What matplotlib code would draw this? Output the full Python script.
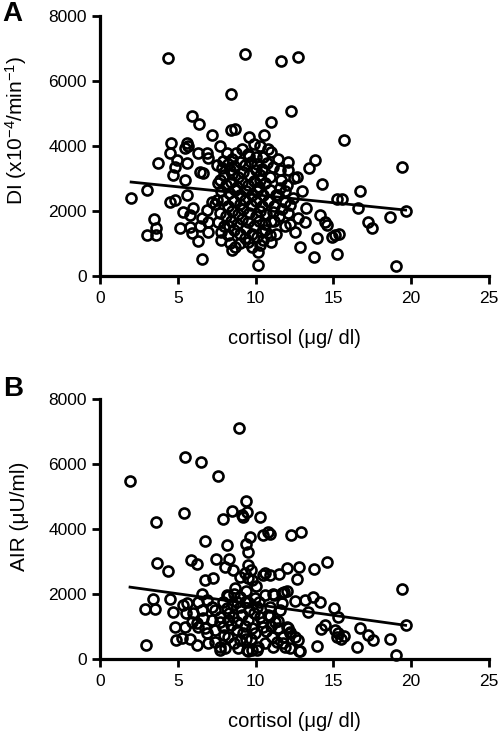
import matplotlib
matplotlib.use("Agg")
from matplotlib import pyplot as plt
import numpy as np

plt.rcParams['font.family'] = ['Liberation Sans', 'DejaVu Sans']
plt.rcParams['mathtext.fontset'] = 'custom'
plt.rcParams['mathtext.rm'] = 'Liberation Sans'
plt.rcParams['mathtext.default'] = 'regular'

# Panel A: disposition index vs cortisol
cortisolA = [4.35, 9.32, 11.63, 12.75, 8.4, 12.25, 10.99, 5.9, 6.36, 7.2,
             8.4, 8.65, 9.6, 10.55, 15.65, 4.55, 4.5, 5.6, 5.67, 5.46,
             3.75, 4.93, 4.8, 4.67, 5.57, 6.3, 6.86, 6.96, 7.71, 8.14,
             8.76, 6.43, 6.64, 7.5, 7.82, 7.71, 8.35, 2.0, 3.02, 5.46,
             5.57, 4.5, 4.85, 5.36, 6.0, 5.78, 6.86, 7.18, 7.55, 6.53,
             6.96, 5.14, 5.78, 5.89, 6.43, 6.96, 6.32, 6.57, 3.5, 3.58,
             3.6, 3.0, 7.8, 8.35, 8.68, 8.5, 9.53, 10.5, 10.82, 10.99,
             11.46, 12.06, 10.71, 11.14, 11.57, 12.1, 12.45, 12.64, 11.63, 10.93,
             10.28, 13.82, 13.43, 14.25, 12.96, 15.24, 15.53, 16.71, 11.46, 11.89,
             12.21, 13.24, 16.6, 19.64, 19.39, 12.75, 13.17, 14.17, 14.44, 14.57,
             18.64, 17.24, 17.5, 11.89, 12.1, 12.55, 13.93, 14.89, 15.1, 15.35,
             12.83, 10.13, 13.75, 15.23, 10.13, 19.0, 10.6, 10.5, 9.32, 9.6,
             7.9, 8.2, 8.6, 9.0, 9.3, 9.7, 10.1, 10.4, 8.0, 8.5,
             8.9, 9.2, 9.6, 10.0, 10.3, 7.6, 8.1, 8.45, 8.8, 9.1,
             9.5, 9.9, 10.2, 10.6, 7.8, 8.3, 8.7, 9.0, 9.4, 9.8,
             10.1, 10.5, 10.9, 7.4, 7.9, 8.2, 8.6, 9.0, 9.3, 9.7,
             10.0, 10.4, 10.8, 11.2, 7.7, 8.1, 8.5, 8.9, 9.2, 9.6,
             10.0, 10.3, 10.7, 11.1, 7.6, 8.0, 8.4, 8.8, 9.1, 9.5,
             9.9, 10.2, 10.6, 11.0, 7.8, 8.2, 8.6, 9.0, 9.4, 9.8,
             10.1, 10.4, 10.9, 9.0, 9.5, 9.8, 10.3, 8.3, 11.3, 11.6,
             11.9, 11.2, 11.5, 11.7, 12.4, 12.0, 10.0, 8.5, 9.9, 10.3,
             9.1, 11.3, 11.0, 12.2]
diA = [6700, 6820, 6630, 6750, 5590, 5070, 4750, 4910, 4690, 4350,
       4490, 4520, 4270, 4340, 4170, 4090, 3790, 4090, 4000, 3930,
       3480, 3560, 3350, 3100, 3470, 3780, 3790, 3640, 4010, 3775,
       3790, 3200, 3160, 3415, 3310, 2950, 3260, 2390, 2640, 2950,
       2490, 2290, 2340, 1980, 2080, 1880, 2030, 2290, 2340, 1775,
       1650, 1470, 1520, 1310, 1540, 1360, 1070, 530, 1740, 1490,
       1260, 1260, 1110, 1005, 890, 800, 3760, 3670, 3900, 3800,
       3600, 3510, 3470, 3365, 3260, 3260, 3010, 3060, 2950, 3055,
       2950, 3560, 3320, 2840, 2630, 2365, 2365, 2625, 2490, 2290,
       2180, 2100, 2080, 2010, 3365, 1775, 1670, 1880, 1670, 1560,
       1800, 1670, 1470, 1540, 1930, 1340, 1160, 1200, 1250, 1300,
       890, 750, 575, 665, 325, 310, 1415, 1110, 1160, 3700,
       3550, 3450, 3380, 3500, 3400, 3520, 3450, 3300, 3100, 3150,
       3050, 3200, 3100, 3250, 3100, 2850, 2800, 2900, 2750, 2880,
       2800, 2920, 2750, 2850, 2600, 2550, 2650, 2500, 2600, 2480,
       2620, 2500, 2650, 2200, 2350, 2150, 2300, 2200, 2350, 2180,
       2300, 2150, 2300, 2150, 1950, 1850, 2000, 1900, 2050, 1950,
       1850, 2000, 1900, 1980, 1650, 1550, 1700, 1600, 1750, 1650,
       1550, 1700, 1600, 1700, 1350, 1250, 1400, 1300, 1450, 1300,
       1200, 1350, 1250, 1000, 1050, 900, 950, 1550, 2500, 2700,
       2600, 1700, 1850, 2050, 2400, 2800, 3650, 3600, 4050, 4000,
       3900, 1300, 1050, 1600]

# Panel B: acute insulin response vs cortisol
cortisolB = [1.93, 5.44, 6.49, 7.6, 8.95, 3.58, 5.38, 7.88, 8.46, 9.1,
             9.36, 9.43, 9.21, 10.28, 6.75, 8.14, 10.82, 10.93, 10.5, 9.64,
             9.38, 9.53, 12.3, 12.94, 3.68, 4.35, 5.87, 6.23, 7.43, 8.28,
             8.03, 8.57, 9.0, 9.32, 6.75, 7.26, 8.7, 6.53, 3.43, 2.92,
             3.53, 4.5, 4.71, 5.36, 5.57, 5.5, 6.0, 6.32, 6.86, 7.18,
             6.53, 7.39, 7.93, 8.25, 8.14, 7.71, 8.57, 9.0, 9.32, 8.57,
             8.14, 4.85, 5.46, 6.21, 6.75, 4.88, 5.3, 5.78, 6.23, 2.96,
             7.39, 7.71, 8.03, 6.32, 6.86, 6.96, 7.39, 7.93, 8.25, 8.78,
             9.0, 7.71, 9.43, 14.57, 13.77, 12.79, 12.67, 12.05, 11.5, 10.93,
             10.6, 10.45, 9.53, 9.68, 9.53, 9.75, 19.39, 11.14, 11.68, 12.0,
             11.84, 11.2, 10.6, 9.96, 10.07, 9.53, 11.68, 12.53, 13.17, 13.71,
             14.14, 13.39, 15.06, 15.27, 19.64, 16.71, 17.2, 17.52, 18.64, 19.0,
             14.2, 14.46, 15.21, 15.47, 15.7, 15.32, 15.1, 13.93, 16.54, 12.79,
             10.93, 11.46, 12.1, 12.21, 12.75, 11.78, 11.14, 10.07, 9.53, 9.53,
             9.75, 9.96, 10.28, 10.5, 10.82, 11.25, 11.46, 11.78, 12.0, 12.21,
             12.53, 11.03, 11.36, 10.6, 10.17, 9.75, 11.89, 12.21, 8.8, 9.1,
             9.6, 8.4, 9.2, 8.6, 9.3, 8.9, 9.9, 9.7, 7.7, 8.3,
             9.0, 8.0, 8.8, 10.2, 9.4, 10.0, 8.6, 12.85,
             10.4, 10.7, 11.0, 9.4, 8.2, 7.2, 6.6, 5.9, 10.9, 11.6]
airB = [5480, 6200, 6050, 5630, 7100, 4225, 4500, 4310, 4555, 4430,
        4870, 4530, 4380, 4380, 3630, 3500, 3915, 3845, 3800, 3740,
        3550, 3300, 3825, 3900, 2945, 2700, 3035, 2920, 3080, 3065,
        2830, 2750, 2530, 2635, 2430, 2505, 2175, 2000, 1850, 1545,
        1545, 1835, 1440, 1660, 1710, 1420, 1405, 1765, 1815, 1610,
        1510, 1510, 1765, 1940, 1560, 1300, 1300, 1610, 1765, 1660,
        1970, 995, 995, 1095, 945, 570, 635, 620, 415, 440,
        530, 275, 330, 995, 790, 480, 890, 995, 685, 890,
        585, 380, 275, 2995, 2760, 2840, 2450, 2790, 2625, 2585,
        2635, 2570, 2900, 2740, 2480, 2420, 2155, 2000, 2040, 2090,
        2070, 1970, 1970, 1865, 1610, 1765, 1720, 1790, 1815, 1915,
        1765, 1450, 1580, 1290, 1035, 965, 740, 585, 605, 125,
        915, 1030, 685, 605, 705, 790, 890, 395, 380, 255,
        1330, 1180, 945, 790, 585, 480, 380, 275, 245, 1200,
        945, 790, 1300, 995, 1355, 1150, 945, 685, 995, 840,
        685, 685, 530, 480, 380, 275, 380, 330, 1150, 1350,
        1500, 1050, 800, 480, 1000, 350, 1400, 600, 1150, 1400,
        1900, 750, 1750, 1750, 2100, 2250, 2000, 255,
        1150, 850, 1000, 600, 1200, 1200, 1250, 1150, 1600, 1500]

# regression lines (slope, intercept)
fitA = (-48.9, 2988)
fitB = (-66.4, 2339)

xTicks = [0, 5, 10, 15, 20, 25]
yTicks = [0, 2000, 4000, 6000, 8000]


def drawPanel(ax, x, y, fit, ylabel, letter, labelY, letterY):
    ax.plot(x, y, linestyle='none', marker='o', ms=7.2, mew=1.9,
            mfc='none', mec='black', clip_on=False, zorder=3)
    xf = np.array([min(x), max(x)])
    ax.plot(xf, fit[0] * xf + fit[1], color='black', lw=2.0, zorder=4)

    ax.set_xlim(0, 25)
    ax.set_ylim(0, 8000)
    ax.set_xticks(xTicks)
    ax.set_yticks(yTicks)
    for s in ['top', 'right']:
        ax.spines[s].set_visible(False)
    for s in ['left', 'bottom']:
        ax.spines[s].set_linewidth(2.3)
    ax.tick_params(direction='out', length=6, width=2.0, labelsize=12.5)
    ax.tick_params(axis='x', pad=4.5)
    ax.tick_params(axis='y', pad=3.5)

    ax.set_xlabel(u'cortisol (\u03bcg/ dl)', fontsize=14.5)
    ax.xaxis.set_label_coords(0.5, -0.205)
    ax.set_ylabel(ylabel, fontsize=15)
    ax.yaxis.set_label_coords(-0.182, labelY)
    ax.text(-0.25, letterY, letter, transform=ax.transAxes, fontsize=20,
            fontweight='bold', ha='left', va='center')


fig = plt.figure(figsize=(5, 7.33), dpi=100)
axA = fig.add_axes([0.2, 0.6235, 0.778, 0.3547])
axB = fig.add_axes([0.2, 0.101, 0.778, 0.3547])

drawPanel(axA, cortisolA, diA, fitA, 'DI (x10$^{-4}$/min$^{-1}$)', 'A', 0.56, 1.008)
drawPanel(axB, cortisolB, airB, fitB, u'AIR (\u03bcU/ml)', 'B', 0.548, 1.04)

fig.savefig('out.png', dpi=100)
